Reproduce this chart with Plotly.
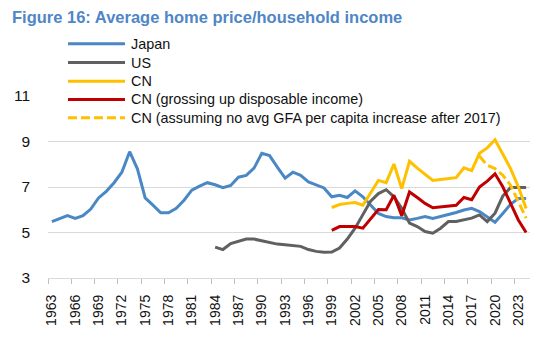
import plotly.graph_objects as go

years_all = list(range(1963, 2025))
japan = [5.48, 5.62, 5.74, 5.62, 5.74, 6.03, 6.52, 6.81, 7.19, 7.65,
         8.55, 7.80, 6.52, 6.20, 5.87, 5.87, 6.06, 6.42, 6.86, 7.04,
         7.19, 7.10, 6.97, 7.07, 7.43, 7.51, 7.83, 8.48, 8.38, 7.87,
         7.39, 7.65, 7.51, 7.22, 7.10, 6.96, 6.57, 6.64, 6.54, 6.83,
         6.57, 6.20, 5.84, 5.70, 5.65, 5.65, 5.55, 5.62, 5.70, 5.62,
         5.70, 5.80, 5.88, 5.99, 6.06, 5.92, 5.70, 5.45, 5.84, 6.24,
         6.50, 6.50]

years_us = list(range(1984, 2025))
us = [4.36, 4.25, 4.51, 4.61, 4.71, 4.71, 4.64, 4.55, 4.49, 4.46,
      4.43, 4.39, 4.25, 4.17, 4.13, 4.14, 4.32, 4.71, 5.19, 5.77,
      6.38, 6.71, 6.88, 6.57, 6.06, 5.41, 5.26, 5.04, 4.97, 5.19,
      5.48, 5.48, 5.55, 5.63, 5.77, 5.48, 5.85, 6.60, 6.98, 6.98,
      6.98]

years_cn = list(range(1999, 2025))
cn = [6.10, 6.23, 6.28, 6.32, 6.20, 6.75, 7.29, 7.19, 8.01, 6.93,
      8.13, 7.83, 7.54, 7.29, 7.33, 7.36, 7.41, 7.84, 7.72, 8.48,
      8.72, 9.08, 8.46, 7.81, 7.01, 6.06]
cn_gross = [5.09, 5.26, 5.26, 5.26, 5.19, 5.59, 6.01, 6.00, 6.64, 5.74,
            6.78, 6.54, 6.28, 6.09, 6.13, 6.16, 6.20, 6.54, 6.44, 7.00,
            7.26, 7.58, 7.01, 6.28, 5.55, 5.00]

years_cn_alt = list(range(2018, 2025))
cn_alt = [8.36, 7.95, 7.81, 7.52, 7.08, 6.35, 5.63]

tick_years = list(range(1963, 2024, 3))
y_ticks = [3, 5, 7, 9, 11]

names = ["Japan", "US", "CN", "CN (grossing up disposable income)",
         "CN (assuming no avg GFA per capita increase after 2017)"]
colors = ["#4A88C5", "#606060", "#FFC000", "#C00000", "#FFC000"]
dashes = ["solid", "solid", "solid", "solid", "9px,4px"]

FONT = "Liberation Sans, Arial, sans-serif"

fig = go.Figure()
series = [(years_all, japan), (years_us, us), (years_cn, cn),
          (years_cn, cn_gross), (years_cn_alt, cn_alt)]
for (xs, ys), name, col, dsh in zip(series, names, colors, dashes):
    fig.add_trace(go.Scatter(x=xs, y=ys, mode="lines", name=name,
                             line=dict(color=col, width=3, dash=dsh),
                             showlegend=False))

# custom legend (long line samples like the original)
W, H = 556, 338
L, R, T, B = 48, 26, 96, 57
pw, ph = W - L - R, H - T - B
leg_py = [43, 62, 81, 99.5, 118]
lx0, lx1, tx = 68, 125, 129
shapes, annots = [], []
for name, col, dsh, py in zip(names, colors, dashes, leg_py):
    yp = (H - B - py) / ph
    shapes.append(dict(type="line", xref="paper", yref="paper",
                       x0=(lx0 - L) / pw, x1=(lx1 - L) / pw, y0=yp, y1=yp,
                       line=dict(color=col, width=3, dash=dsh)))
    annots.append(dict(text=name, xref="paper", yref="paper",
                       x=(tx - L) / pw, y=yp, xanchor="left", yanchor="middle",
                       showarrow=False,
                       font=dict(family=FONT, size=14.4, color="#111111")))

fig.update_layout(
    width=W, height=H,
    margin=dict(l=L, r=R, t=T, b=B),
    paper_bgcolor="white", plot_bgcolor="white",
    title=dict(text="<b>Figure 16: Average home price/household income</b>",
               x=12 / W, xanchor="left", xref="container",
               y=1 - 17 / H, yanchor="middle", yref="container",
               font=dict(family=FONT, size=16.5, color="#4F86C6")),
    shapes=shapes, annotations=annots,
    xaxis=dict(range=[1962.5, 2024.5], tickmode="array",
               tickvals=tick_years, ticktext=[str(y) for y in tick_years],
               tickangle=-90, ticks="", showgrid=False, zeroline=False,
               showline=True, linecolor="#D9D9D9", linewidth=1.3,
               ticklabelstandoff=10,
               tickfont=dict(family=FONT, size=14, color="#111111"),
               minor=dict(tickmode="array",
                          tickvals=[y - 0.5 for y in tick_years],
                          ticks="outside", ticklen=5, tickcolor="#BFBFBF",
                          tickwidth=1.3, showgrid=False)),
    yaxis=dict(range=[3, 11], tickmode="array", tickvals=y_ticks,
               showgrid=True, gridcolor="#D9D9D9", gridwidth=1.3,
               zeroline=False, showline=False, ticks="",
               ticklabelstandoff=17,
               tickfont=dict(family=FONT, size=15.5, color="#111111")),
)

fig.write_html("out.html")
